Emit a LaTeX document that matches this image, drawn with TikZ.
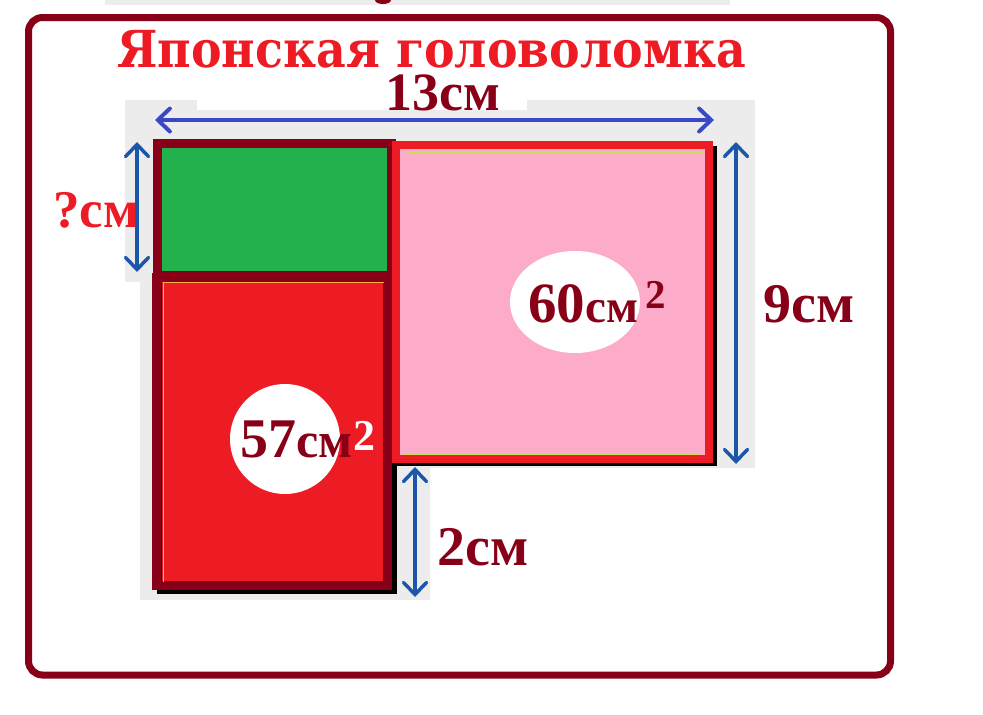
\documentclass[tikz,border=0pt]{standalone}
\usepackage{fontspec}
\setmainfont{DejaVu Serif}
\newfontfamily\labelfont{Liberation Serif}
\usetikzlibrary{arrows.meta,shapes.geometric}
\definecolor{framered}{RGB}{136,0,24}
\definecolor{brightred}{RGB}{237,28,36}
\definecolor{puzzlegreen}{RGB}{34,177,76}
\definecolor{puzzlepink}{RGB}{252,171,200}
\definecolor{arrowblue}{RGB}{28,86,170}
\definecolor{lineblue}{RGB}{58,72,200}
\definecolor{paper}{RGB}{236,236,236}
\definecolor{limeline}{RGB}{201,221,92}
\definecolor{goldline}{RGB}{247,178,68}
\newcommand{\fsz}[1]{\fontsize{#1}{#1}\selectfont}
\tikzstyle{mybox} = [rectangle, inner sep=0pt, outer sep=0pt]
\tikzstyle{dimarrow} = [arrowblue, line width=3.5pt,
    {Straight Barb[length=12pt,width=23pt,line cap=round]}-{Straight Barb[length=12pt,width=23pt,line cap=round]}]
\tikzstyle{dimlabel} = [inner sep=0pt, text=framered, font=\labelfont\bfseries\fsz{56}]
\tikzstyle{bigtitle} = [inner sep=0pt, text=brightred, font=\bfseries\fsz{51}]

\begin{document}
\begin{tikzpicture}[x=1pt,y=-1pt]
                \useasboundingbox (0,0) rectangle (983,715);
                % frame and paper background
                \fill[paper] (105,0) rectangle (730,5);
                \fill[framered] (383,0) ellipse [x radius=8, y radius=4];
                \draw[framered, line width=7pt, rounded corners=14pt] (28.5,17.5) rectangle (890.5,675);
                \fill[paper] (125,100) -- (755,100) -- (755,468) -- (430,468) -- (430,600)
                    -- (140,600) -- (140,282) -- (125,282) -- cycle;
                \fill[white] (197,98) rectangle (527,110);
                % shadows
                \fill[black] (157,278) rectangle (397,594);
                \fill[black] (397,146) rectangle (717,466);
                % the three pieces
                \node [mybox, draw=framered, fill=puzzlegreen, line width=9pt,
                    minimum width=234pt, minimum height=132pt] (green) at (274.5,209.5) {};
                \node [mybox, draw=framered, fill=brightred, line width=9pt,
                    minimum width=231pt, minimum height=308pt] (red) at (272,431.5) {};
                \node [mybox, draw=brightred, fill=puzzlepink, line width=8pt,
                    minimum width=313pt, minimum height=314pt] (pink) at (552.5,302) {};
                \draw[black, line width=1pt] (161.5,283) -- (161.5,582);
                \draw[goldline, line width=1.5pt] (163.5,582) -- (163.5,282.5) -- (384,282.5);
                \draw[limeline, line width=3pt] (408,152.5) -- (703,152.5);
                \draw[limeline, line width=2pt] (403,453.5) -- (700,453.5);
                \draw[limeline, line width=1.5pt] (405.5,330) -- (405.5,450);
                % white spots with the areas
                \node [circle, fill=white, minimum size=110pt, inner sep=0pt] (spot57) at (285,439) {};
                \node [ellipse, fill=white, minimum width=130pt, minimum height=102pt, inner sep=0pt] (spot60) at (575,302) {};
                \node [dimlabel, anchor=base west] (area57) at (240,457) {57{\fsz{50}см}};
                \node [dimlabel, anchor=base west, text=white, font=\labelfont\bfseries\fsz{44}] (sq57) at (353,450) {2};
                \node [dimlabel, anchor=base west, font=\labelfont\bfseries\fsz{57}] (area60) at (528,322) {60{\fsz{47}см}};
                \node [dimlabel, anchor=base west, font=\labelfont\bfseries\fsz{41}] (sq60) at (645,308) {2};
                % sizes
                \node [bigtitle, anchor=base] (title) at (431.5,67) {\scalebox{0.9}[1]{Японская головоломка}};
                \node [dimlabel, anchor=base, font=\labelfont\bfseries\fsz{54}] (top13) at (442.5,110) {13см};
                \node [dimlabel, anchor=base west, text=brightred, font=\labelfont\bfseries\fsz{53}] (unknown) at (53,227) {?см};
                \node [dimlabel, anchor=base west] (side9) at (763,322) {9см};
                \node [dimlabel, anchor=base west] (gap2) at (437,565) {2см};
                \coordinate (a1) at (155,120);
                \coordinate (a2) at (714,120);
                \coordinate (b1) at (137,142);
                \coordinate (b2) at (137,272);
                \coordinate (c1) at (736,142);
                \coordinate (c2) at (736,464);
                \coordinate (d1) at (415,467);
                \coordinate (d2) at (415,597);
                \draw[dimarrow, lineblue, line width=4pt] (a1) -- (a2);
                \draw[dimarrow] (b1) -- (b2);
                \draw[dimarrow] (c1) -- (c2);
                \draw[dimarrow] (d1) -- (d2);
            \end{tikzpicture}
\end{document}
